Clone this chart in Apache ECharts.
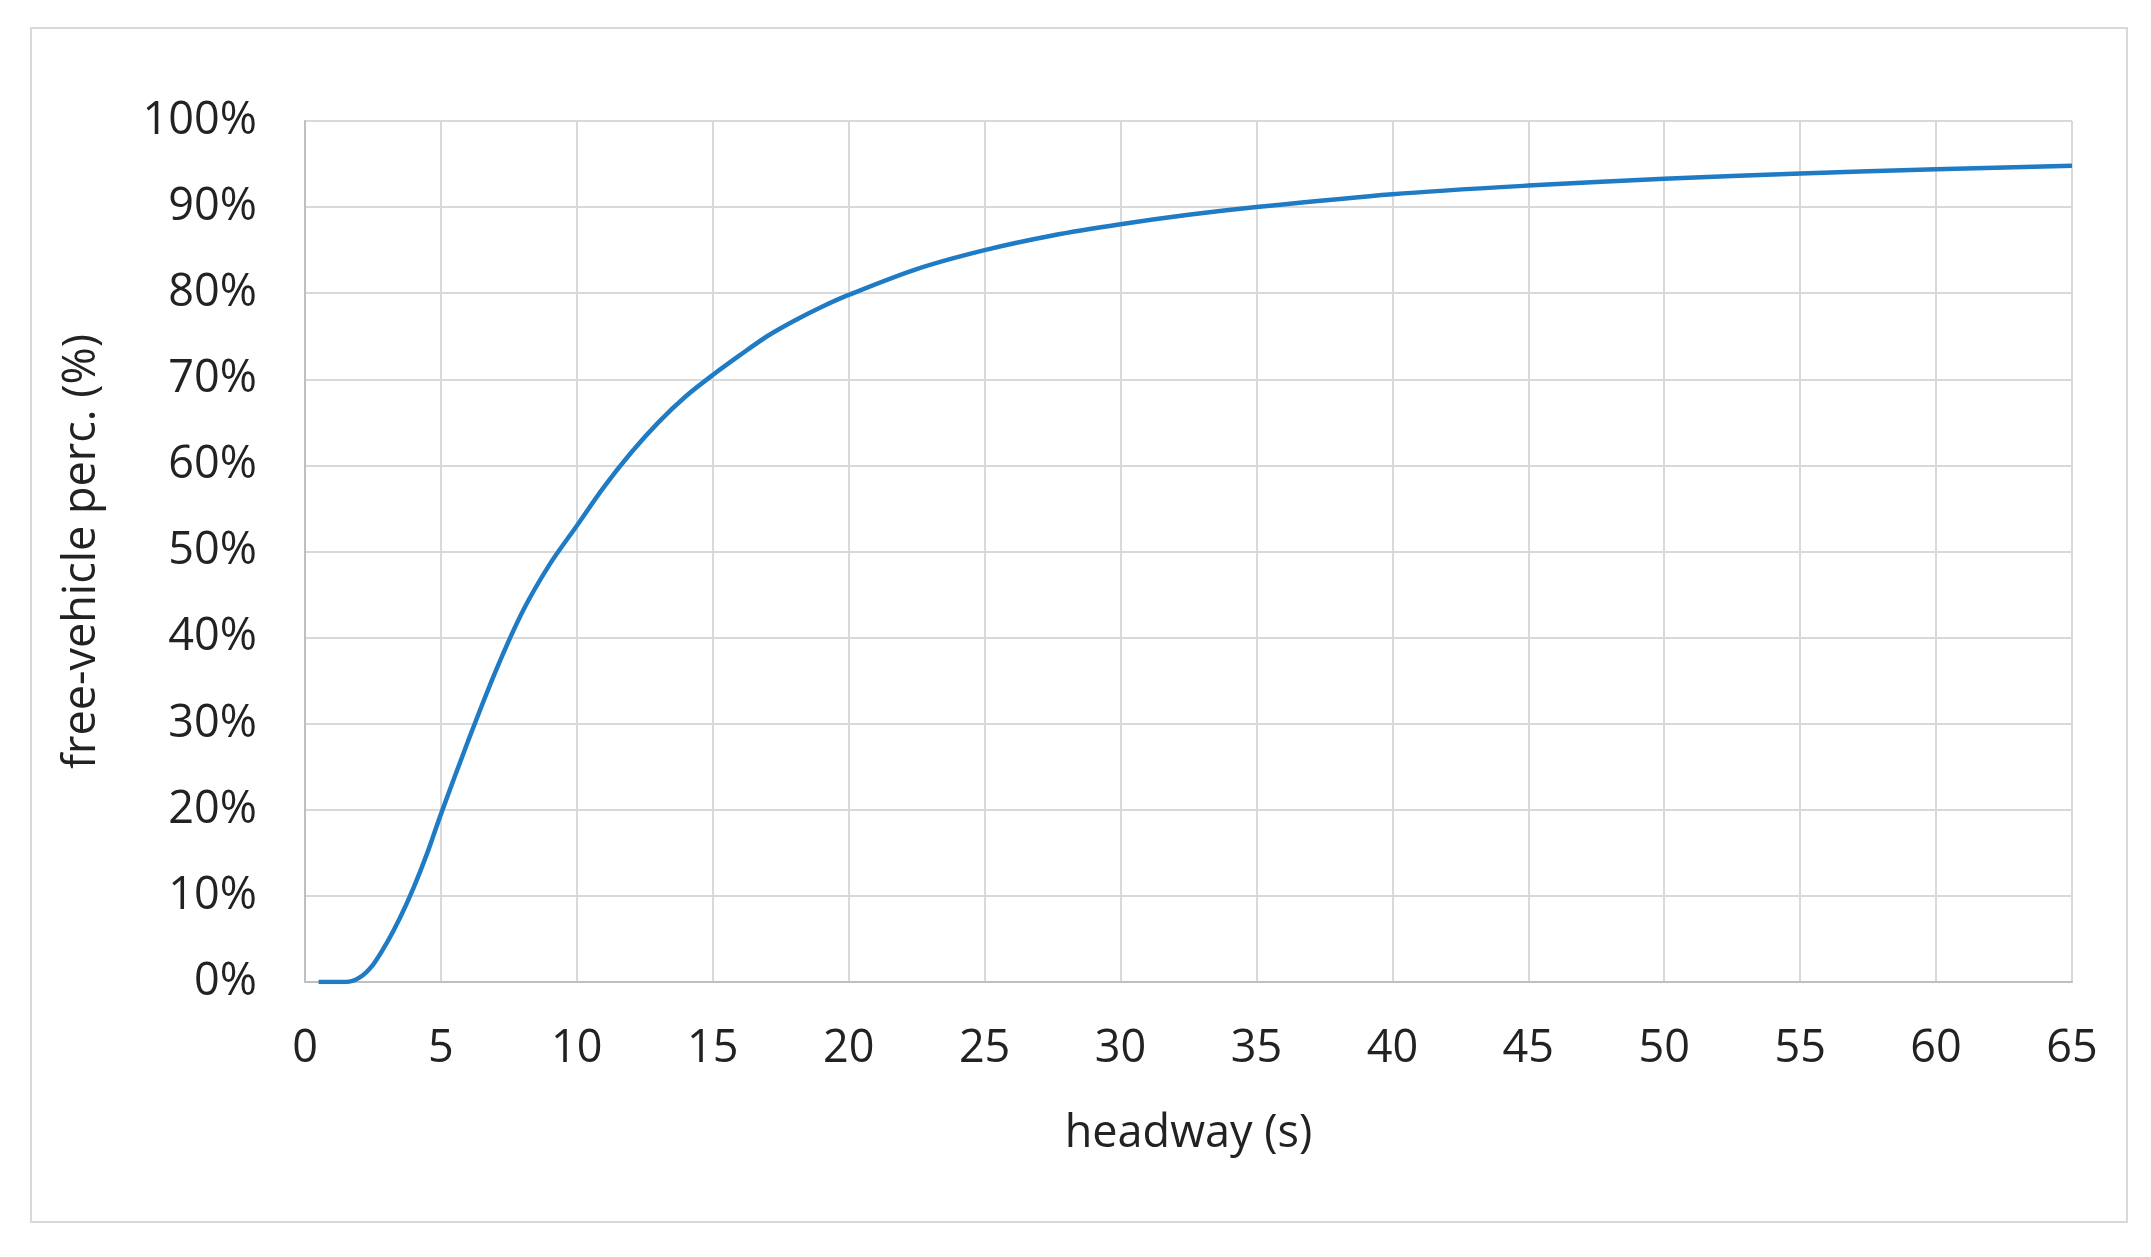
<!DOCTYPE html>
<html><head><meta charset="utf-8">
<script src="https://cdn.jsdelivr.net/npm/echarts@6/dist/echarts.min.js"></script>
<style>html,body{margin:0;padding:0;background:#fff}#c{width:2151px;height:1257px}
#b{position:absolute;left:30px;top:27px;width:2098px;height:1196px;border:2px solid #d9d9d9;box-sizing:border-box;pointer-events:none}</style>
</head><body><div id="c"></div><div id="b"></div>
<script>
const headway = [0.5,1.5,2,2.5,3,3.5,4,4.5,5,6,7,8,9,10,11,12,13,14,15,16,17,18,19,20,22.5,25,27.5,30,32.5,35,40,45,50,55,60,65];
const freePerc = [0,0,0.5,2,4.5,7.5,11,15,19.5,28,36,43,48.5,53,57.5,61.5,65,68,70.5,72.8,75,76.8,78.4,79.8,82.8,85,86.7,88,89.1,90,91.5,92.5,93.3,93.9,94.4,94.8];
const chart = echarts.init(document.getElementById('c'));
const font = 'Open Sans, Liberation Sans, sans-serif';
chart.setOption({
  animation:false,
  grid:{left:305,right:79,top:121,bottom:275,containLabel:false},
  xAxis:{type:'value',min:0,max:65,interval:5,
    name:'headway (s)',nameLocation:'middle',nameGap:130,
    nameTextStyle:{fontSize:45,color:'#222',fontFamily:font},
    axisLabel:{fontSize:45,color:'#222',fontFamily:font,margin:45},
    axisLine:{lineStyle:{color:'#bfbfbf',width:2}},axisTick:{show:false},
    splitLine:{show:true,lineStyle:{color:'#d9d9d9',width:2}}},
  yAxis:{type:'value',min:0,max:100,interval:10,
    name:'free-vehicle perc. (%)',nameLocation:'middle',nameGap:200,
    nameTextStyle:{fontSize:45,color:'#222',fontFamily:font},
    axisLabel:{fontSize:45,color:'#222',fontFamily:font,formatter:'{value}%',margin:48},
    axisLine:{show:true,lineStyle:{color:'#bfbfbf',width:2}},axisTick:{show:false},
    splitLine:{lineStyle:{color:'#d9d9d9',width:2}}},
  series:[{type:'line',smooth:0.3,showSymbol:false,
    data:headway.map((x,i)=>[x,freePerc[i]]),
    lineStyle:{color:'#1f7bc4',width:4.5}}]
});
</script></body></html>
